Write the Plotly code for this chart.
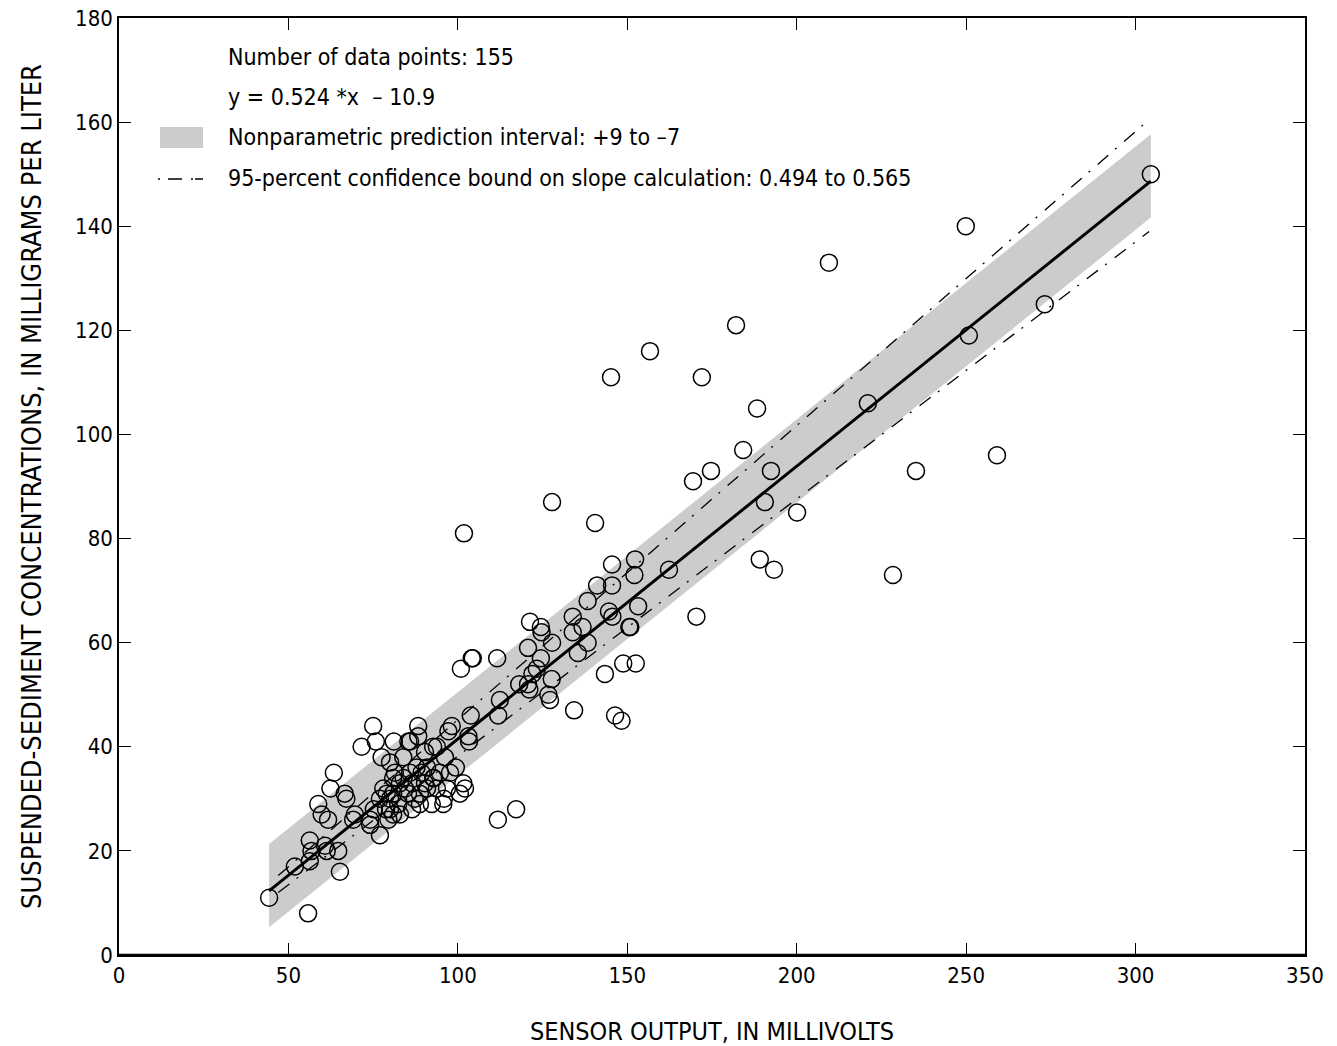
import plotly.graph_objects as go

# ---- data ----
sensor_mv = [
    304.5, 249.9, 209.5, 273.2, 250.8, 182.1, 156.7, 145.2, 172.0, 221.0,
    188.3, 184.2, 259.1, 174.7, 169.4, 192.4, 235.2, 127.8, 190.6, 200.1,
    140.5, 101.8, 189.1, 152.3, 193.3, 145.5, 162.3, 228.4, 152.1, 141.1,
    145.5, 138.3, 153.2, 144.6, 145.6, 170.4, 133.9, 150.6, 150.9, 121.3,
    124.5, 124.7, 133.9, 136.8, 127.8, 138.3, 120.7, 124.5, 135.4, 111.6,
    104.1, 104.4, 100.9, 123.3, 122.0, 118.1, 120.7, 121.1, 127.7, 126.7,
    127.2, 112.4, 111.9, 103.8, 143.4, 148.8, 152.5, 134.3, 146.4, 148.3,
    98.2, 97.2, 103.1, 103.3, 88.3, 88.3, 85.9, 92.7, 96.2, 101.6,
    102.1, 100.6, 92.3, 95.7, 111.8, 117.2, 75.0, 75.8, 71.6, 77.5,
    81.1, 83.9, 85.4, 63.4, 62.4, 66.6, 67.1, 58.8, 59.8, 61.7,
    69.6, 69.1, 74.1, 74.1, 77.0, 56.3, 56.8, 56.3, 60.8, 61.3,
    64.7, 65.2, 51.9, 44.3, 55.8, 80.9, 79.0, 87.8, 89.3, 92.7,
    92.9, 85.9, 80.9, 80.0, 80.9, 79.5, 82.4, 78.0, 80.0, 84.4,
    86.5, 88.8, 90.3, 87.3, 82.9, 85.3, 81.4, 90.9, 94.7, 93.8,
    97.7, 96.8, 95.9, 88.8, 78.8, 77.0, 82.9, 75.2, 90.3, 93.8,
    99.4, 80.0, 86.5, 90.9, 84.0,
]
ssc_mgl = [
    150, 140, 133, 125, 119, 121, 116, 111, 111, 106,
    105, 97, 96, 93, 91, 93, 93, 87, 87, 85,
    83, 81, 76, 76, 74, 75, 74, 73, 73, 71,
    71, 68, 67, 66, 65, 65, 65, 63, 63, 64,
    63, 62, 62, 63, 60, 60, 59, 57, 58, 57,
    57, 57, 55, 55, 54, 52, 52, 51, 53, 50,
    49, 49, 46, 46, 54, 56, 56, 47, 46, 45,
    44, 43, 42, 41, 44, 42, 41, 40, 38, 33,
    32, 31, 29, 29, 26, 28, 44, 41, 40, 38,
    41, 38, 41, 35, 32, 31, 30, 29, 27, 26,
    27, 26, 26, 25, 23, 22, 20, 18, 21, 20,
    20, 16, 17, 11, 8, 31, 31, 36, 35, 34,
    34, 35, 34, 28, 27, 26, 29, 32, 30, 32,
    33, 31, 33, 30, 33, 31, 35, 36, 35, 32,
    35, 32, 30, 29, 28, 30, 27, 28, 39, 40,
    36, 37, 28, 32, 34,
]

slope = 0.524
intercept = -10.9
pi_upper = 9
pi_lower = -7
fit_x_range = [44.3, 304.5]
ci_slopes = [0.565, 0.494]
ci_intercepts = [-11.3, -11.2]
ci_x_range = [47.0, 304.0]

n_points = 155

FONT = "Liberation Sans Narrow, DejaVu Sans Condensed, Arial Narrow, sans-serif"
BAND = "#cccccc"
DASHDOT = "14px,9px,2px,10px"

# page layout (body margin removed in post_script)
FIG_W, FIG_H = 1337, 1046
M_L, M_T = 119, 18
PLOT_W, PLOT_H = 1186, 937
M_R = FIG_W - M_L - PLOT_W
M_B = FIG_H - M_T - PLOT_H

fig = go.Figure()

# prediction-interval band
bx0, bx1 = fit_x_range
band_x = [bx0, bx1, bx1, bx0, bx0]
band_y = [slope * bx0 + intercept + pi_upper, slope * bx1 + intercept + pi_upper,
          slope * bx1 + intercept + pi_lower, slope * bx0 + intercept + pi_lower,
          slope * bx0 + intercept + pi_upper]
fig.add_trace(go.Scatter(x=band_x, y=band_y, mode="lines", fill="toself",
                         fillcolor=BAND, line=dict(width=0, color=BAND),
                         hoverinfo="skip", showlegend=False))

# confidence bounds on slope
for s, b in zip(ci_slopes, ci_intercepts):
    fig.add_trace(go.Scatter(x=ci_x_range, y=[s * v + b for v in ci_x_range],
                             mode="lines", line=dict(color="black", width=1.3, dash=DASHDOT),
                             hoverinfo="skip", showlegend=False))

# regression line
fig.add_trace(go.Scatter(x=fit_x_range, y=[slope * v + intercept for v in fit_x_range],
                         mode="lines", line=dict(color="black", width=3),
                         hoverinfo="skip", showlegend=False))

# data points
fig.add_trace(go.Scatter(x=sensor_mv, y=ssc_mgl, mode="markers",
                         marker=dict(symbol="circle-open", size=17,
                                     color="black", line=dict(color="black", width=1.5)),
                         showlegend=False))

axis_common = dict(showline=True, linecolor="black", linewidth=1.5, mirror="ticks",
                   ticks="inside", ticklen=12, tickwidth=1, tickcolor="black",
                   showgrid=False, zeroline=False, automargin=False,
                   ticklabeloverflow="allow",
                   tickfont=dict(family=FONT, size=22, color="black"))

fig.update_xaxes(range=[0, 350], dtick=50, tick0=0,
                 title=dict(text="SENSOR OUTPUT, IN MILLIVOLTS",
                            font=dict(family=FONT, size=25, color="black"), standoff=36),
                 **axis_common)
fig.update_yaxes(range=[0, 180], dtick=20, tick0=0,
                 title=dict(text="SUSPENDED-SEDIMENT CONCENTRATIONS, IN MILLIGRAMS PER LITER",
                            font=dict(family=FONT, size=27, color="black"), standoff=26),
                 **axis_common)

# legend block (paper coordinates, measured relative to the plot area)
def px_to_paper_x(px):
    return (px - 119) / PLOT_W

def px_to_paper_y(py):
    return (955 - py) / PLOT_H

legend_texts = [
    (f"Number of data points: {n_points}", 57),
    (f"y = {slope} *x  – {abs(intercept)}", 97),
    (f"Nonparametric prediction interval: +{pi_upper} to –{abs(pi_lower)}", 137),
    (f"95-percent confidence bound on slope calculation: {ci_slopes[1]} to {ci_slopes[0]}", 178),
]
annotations = []
for txt, py in legend_texts:
    annotations.append(dict(x=px_to_paper_x(226), y=px_to_paper_y(py), xref="paper", yref="paper",
                            text=txt, showarrow=False, xanchor="left", yanchor="middle",
                            font=dict(family=FONT, size=23, color="black")))

shapes = [
    dict(type="rect", xref="paper", yref="paper",
         x0=px_to_paper_x(160), x1=px_to_paper_x(203),
         y0=px_to_paper_y(148), y1=px_to_paper_y(127),
         fillcolor=BAND, line=dict(width=0)),
    dict(type="line", xref="paper", yref="paper",
         x0=px_to_paper_x(158), x1=px_to_paper_x(206),
         y0=px_to_paper_y(179), y1=px_to_paper_y(179),
         line=dict(color="black", width=1.3, dash="2px,8px,14px,9px,2px")),
    # heavier bottom axis line
    dict(type="line", xref="paper", yref="paper", x0=0, x1=1, y0=0, y1=0,
         line=dict(color="black", width=2.5)),
]

fig.update_layout(
    width=FIG_W, height=FIG_H,
    margin=dict(l=M_L, r=M_R, t=M_T, b=M_B, autoexpand=False),
    paper_bgcolor="white", plot_bgcolor="white",
    font=dict(family=FONT, color="black"),
    annotations=annotations, shapes=shapes,
    showlegend=False,
)

fig.write_html("out.html",
               config={"displayModeBar": False},
               post_script="document.body.style.margin='0';document.body.style.overflow='hidden';")
